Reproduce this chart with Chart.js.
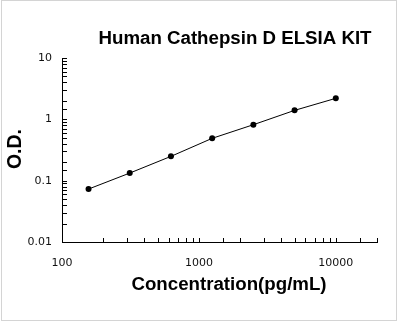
<!DOCTYPE html>
<html>
<head>
<meta charset="utf-8">
<script src="https://cdn.jsdelivr.net/npm/chart.js@4/dist/chart.umd.min.js"></script>
<style>
html,body{margin:0;padding:0;background:#fff;}
#wrap{width:398px;height:323px;position:relative;}
</style>
</head>
<body>
<div id="wrap"><canvas id="c" width="398" height="323"></canvas></div>
<script>
// Data
const concentrations = [156.25, 312.5, 625, 1250, 2500, 5000, 10000];
const odValues = [0.073, 0.133, 0.249, 0.49, 0.817, 1.40, 2.20];
const xTickValues = [100, 1000, 10000];
const xTickLabels = ['100', '1000', '10000'];
const yTickValues = [0.01, 0.1, 1, 10];
const yTickLabels = ['0.01', '0.1', '1', '10'];
const chartTitle = 'Human Cathepsin D ELSIA KIT';
const xTitle = 'Concentration(pg/mL)';
const yTitle = 'O.D.';

function labelFor(values, labels, v) {
  for (let i = 0; i < values.length; i++) {
    if (Math.abs(values[i] - v) / values[i] < 1e-6) return labels[i];
  }
  return '';
}

const tickFont = {family: "'DejaVu Sans', Verdana, sans-serif", size: 11};

const decor = {
  id: 'decor',
  afterDraw(chart) {
    const ctx = chart.ctx;
    const ca = chart.chartArea;
    ctx.save();
    // inward ticks
    ctx.strokeStyle = '#000';
    ctx.lineWidth = 1;
    const xs = chart.scales.x, ys = chart.scales.y;
    ctx.beginPath();
    xs.ticks.forEach(t => {
      const px = Math.round(xs.getPixelForValue(t.value)) + 0.5;
      ctx.moveTo(px, ca.bottom);
      ctx.lineTo(px, ca.bottom - 4);
    });
    ys.ticks.forEach(t => {
      const py = Math.round(ys.getPixelForValue(t.value)) + 0.5;
      ctx.moveTo(ca.left, py);
      ctx.lineTo(ca.left + 5, py);
    });
    ctx.stroke();
    // titles
    ctx.fillStyle = '#000';
    ctx.textAlign = 'center';
    ctx.textBaseline = 'middle';
    ctx.font = "bold 18.7px 'Liberation Sans', Arial, sans-serif";
    ctx.fillText(chartTitle, 235, 39);
    ctx.fillText(xTitle, 229, 285);
    ctx.save();
    ctx.translate(16, 149);
    ctx.rotate(-Math.PI / 2);
    ctx.font = "bold 19.5px 'Liberation Sans', Arial, sans-serif";
    ctx.fillText(yTitle, 0, 0);
    ctx.restore();
    // outer frame
    ctx.strokeStyle = '#d4d4d4';
    ctx.strokeRect(1.5, 0.5, 395, 320);
    ctx.restore();
  }
};

new Chart(document.getElementById('c'), {
  type: 'line',
  data: {
    datasets: [{
      data: concentrations.map((x, i) => ({x: x, y: odValues[i]})),
      borderColor: '#000',
      backgroundColor: '#000',
      borderWidth: 1,
      pointRadius: 3,
      pointHoverRadius: 3,
      pointBackgroundColor: '#000',
      pointBorderWidth: 0,
      tension: 0,
      fill: false
    }]
  },
  options: {
    responsive: false,
    animation: false,
    devicePixelRatio: 1,
    layout: {padding: {left: 0, right: 21, top: 58, bottom: 0}},
    plugins: {legend: {display: false}, tooltip: {enabled: false}, title: {display: false}},
    scales: {
      x: {
        type: 'logarithmic',
        position: 'bottom',
        min: 100,
        max: 20000,
        afterFit(s) { s.height = 81; },
        grid: {display: false, drawTicks: false},
        border: {display: true, color: '#000', width: 1},
        ticks: {
          autoSkip: false, maxRotation: 0, minRotation: 0, padding: 15,
          color: '#111', font: tickFont,
          callback: (v) => labelFor(xTickValues, xTickLabels, v)
        }
      },
      y: {
        type: 'logarithmic',
        position: 'left',
        min: 0.01,
        max: 10,
        afterFit(s) { s.width = 62; },
        grid: {display: false, drawTicks: false},
        border: {display: true, color: '#000', width: 1},
        ticks: {
          autoSkip: false, padding: 10,
          color: '#111', font: tickFont,
          callback: (v) => labelFor(yTickValues, yTickLabels, v)
        }
      }
    }
  },
  plugins: [decor]
});
</script>
</body>
</html>
